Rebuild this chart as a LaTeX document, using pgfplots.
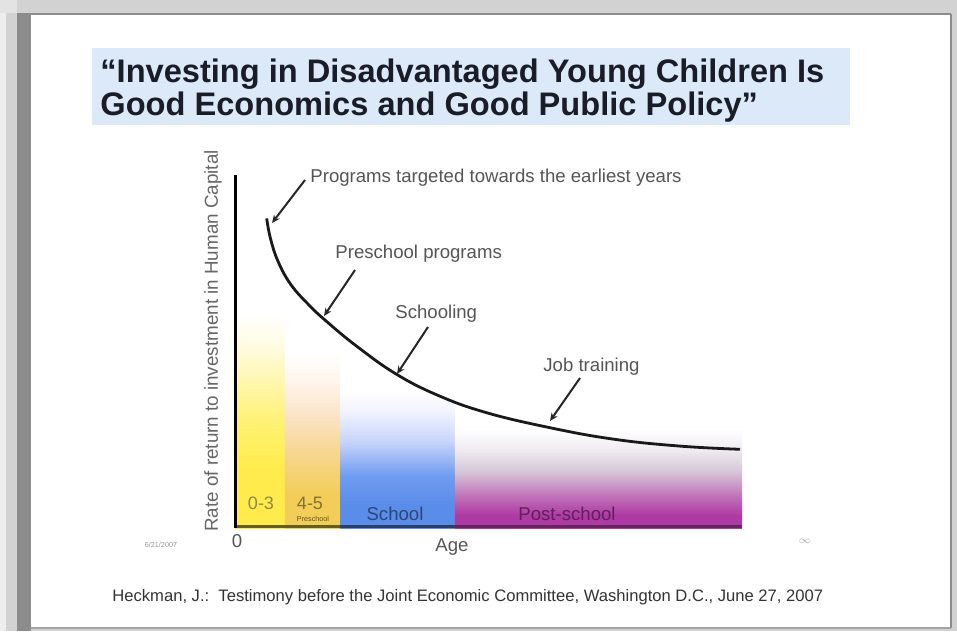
\documentclass[border=0pt]{standalone}
\usepackage{fontspec}
\setmainfont{Liberation Sans}
\usepackage{graphicx}
\usepackage{pgfplots}
\pgfplotsset{compat=1.18}
\usetikzlibrary{arrows.meta}

% slide colours
\definecolor{framelight}{HTML}{EEEEEE}
\definecolor{framemid}{HTML}{D2D2D2}
\definecolor{framedark}{HTML}{8C8C8C}
\definecolor{titlebox}{HTML}{DCE9F8}
\definecolor{titletext}{HTML}{1A1C28}
\definecolor{labeltext}{HTML}{555555}
\definecolor{foottext}{HTML}{333333}

% band colours
\definecolor{yb1}{HTML}{FFEC4C}
\definecolor{yb2}{HTML}{FFF173}
\definecolor{yb3}{HTML}{FFF7B6}
\definecolor{yb4}{HTML}{FFFCE8}
\definecolor{ob1}{HTML}{F2CE58}
\definecolor{ob2}{HTML}{F7D690}
\definecolor{ob3}{HTML}{FBE5CB}
\definecolor{ob4}{HTML}{FEF6EE}
\definecolor{bb1}{HTML}{5A8CEA}
\definecolor{bb2}{HTML}{709CF0}
\definecolor{bb3}{HTML}{C8D5FA}
\definecolor{bb4}{HTML}{F0F2FF}
\definecolor{pb1}{HTML}{AE3AA4}
\definecolor{pb2}{HTML}{C072B8}
\definecolor{pb3}{HTML}{D6C8D8}
\definecolor{pb4}{HTML}{F2EEF3}

\pgfdeclareverticalshading{yband}{100bp}{color(0bp)=(yb1); color(25bp)=(yb1); color(38bp)=(yb1); color(48bp)=(yb2); color(58bp)=(yb3); color(66bp)=(yb4); color(72bp)=(white); color(100bp)=(white)}
\pgfdeclareverticalshading{oband}{100bp}{color(0bp)=(ob1); color(25bp)=(ob1); color(34bp)=(ob1); color(45bp)=(ob2); color(56bp)=(ob3); color(65bp)=(ob4); color(72bp)=(white); color(100bp)=(white)}
\pgfdeclareverticalshading{bband}{100bp}{color(0bp)=(bb1); color(25bp)=(bb1); color(33bp)=(bb1); color(43bp)=(bb2); color(55bp)=(bb3); color(65bp)=(bb4); color(72bp)=(white); color(100bp)=(white)}
\pgfdeclareverticalshading{pband}{100bp}{color(0bp)=(pb1); color(25bp)=(pb1); color(31bp)=(pb1); color(40bp)=(pb2); color(52bp)=(pb3); color(63bp)=(pb4); color(72bp)=(white); color(100bp)=(white)}

\begin{document}
\begin{tikzpicture}
% slide frame, 1 px = 0.5pt, y downwards
\begin{scope}[x=0.5pt,y=-0.5pt]
  \fill[framelight] (0,0) rectangle (957,631);
  \fill[framemid] (6,0) rectangle (957,631);
  \fill[framelight!60!framemid] (0,0) rectangle (17,13);
  \fill[framedark] (17,13) rectangle (31,631);
  \fill[white] (31,15) rectangle (950,627);
  \draw[framedark, line width=1pt] (31,14) -- (951,14);
  \draw[framedark, line width=1pt] (951,14) -- (951,628);
  \draw[framedark!80, line width=1pt] (31,628) -- (951,628);
  % title
  \fill[titlebox] (92,48) rectangle (850,125);
  \node[anchor=base west, inner sep=0, text=titletext,
        font=\bfseries\fontsize{16.3}{19}\selectfont] at (100,83)
        {“Investing in Disadvantaged Young Children Is};
  \node[anchor=base west, inner sep=0, text=titletext,
        font=\bfseries\fontsize{16.3}{19}\selectfont] at (100,116)
        {Good Economics and Good Public Policy”};
\end{scope}

\begin{axis}[
    scale only axis,
    width=253.5pt, height=176.5pt,
    at={(117.5pt,-264pt)}, anchor=south west,
    xmin=0, xmax=10, ymin=0, ymax=10,
    hide axis, clip=false,
]
% age bands
\addplot[draw=none, shade, shading=yband] coordinates {(0,6.5) (0.986,6.5)} \closedcycle;
\addplot[draw=none, shade, shading=oband] coordinates {(0.986,5.3) (2.071,5.3)} \closedcycle;
\addplot[draw=none, shade, shading=bband] coordinates {(2.071,4.1) (4.339,4.1)} \closedcycle;
\addplot[draw=none, shade, shading=pband] coordinates {(4.339,3.0) (10,3.0)} \closedcycle;
% bottom edge
\addplot[color=yb1!40!black, line width=1.5pt] coordinates {(0,0.03) (2.071,0.03)};
\addplot[color=bb1!45!black, line width=1.5pt] coordinates {(2.071,0.03) (4.339,0.03)};
\addplot[color=pb1!60!black, line width=1.5pt] coordinates {(4.339,0.03) (10,0.03)};
% vertical axis
\addplot[black, line width=1.5pt] coordinates {(0,0) (0,10)};
% rate of return curve
\addplot[black!90, line width=1.4pt, smooth, tension=0.7] coordinates {
  (0.625,8.77) (0.70,8.20) (0.85,7.55) (1.10,6.90) (1.45,6.33)
  (1.80,5.86) (2.40,5.15) (3.18,4.36) (4.00,3.76) (4.93,3.28)
  (6.15,2.86) (7.45,2.52) (8.78,2.32) (9.96,2.23)};
\end{axis}

\begin{scope}[x=0.5pt,y=-0.5pt]
  % annotations
  \tikzset{lab/.style={anchor=west, inner sep=0, text=labeltext,
           font=\fontsize{9.3}{11}\selectfont}}
  \node[lab] at (310,178) {Programs targeted towards the earliest years};
  \node[lab] at (335,254) {Preschool programs};
  \node[lab] at (395,314) {Schooling};
  \node[lab] at (543,367) {Job training};
  \tikzset{arr/.style={black!85, line width=1pt,
           -{Stealth[length=4pt,width=3.5pt]}}}
  \draw[arr] (305,180) -- (272,223);
  \draw[arr] (355,270) -- (324,316);
  \draw[arr] (428,327) -- (397,374);
  \draw[arr] (580,378) -- (550,421);
  % axis texts
  \node[rotate=90, inner sep=0, text=labeltext!90!white,
        font=\fontsize{9.4}{11}\selectfont] at (213,341)
        {Rate of return to investment in Human Capital};
  \node[inner sep=0, text=labeltext, font=\fontsize{9.3}{11}\selectfont] at (237,541) {0};
  \node[inner sep=0, text=labeltext, font=\fontsize{9.3}{11}\selectfont] at (452,547) {Age};
  \node[inner sep=0, text=black!40, font=\fontsize{3.6}{4}\selectfont] at (161,545) {6/21/2007};
  \node[inner sep=0, text=black!30, font=\fontsize{5}{6}\selectfont] at (805,541) {$\infty$};
  % band labels
  \node[inner sep=0, text=yb1!45!black!80, font=\fontsize{9}{11}\selectfont] at (261,503) {0-3};
  \node[inner sep=0, text=ob1!55!black, font=\fontsize{9}{11}\selectfont] at (310,503) {4-5};
  \node[inner sep=0, text=ob1!40!black, font=\fontsize{3.6}{4}\selectfont] at (313,519) {Preschool};
  \node[inner sep=0, text=bb1!50!black, font=\fontsize{9.3}{11}\selectfont] at (395,514) {School};
  \node[inner sep=0, text=pb1!55!black, font=\fontsize{9.3}{11}\selectfont] at (567,514) {Post-school};
  % footer
  \node[anchor=base west, inner sep=0, text=foottext,
        font=\fontsize{8.3}{10}\selectfont] at (112,601)
        {Heckman, J.:~~Testimony before the Joint Economic Committee, Washington D.C., June 27, 2007};
\end{scope}
\end{tikzpicture}
\end{document}
